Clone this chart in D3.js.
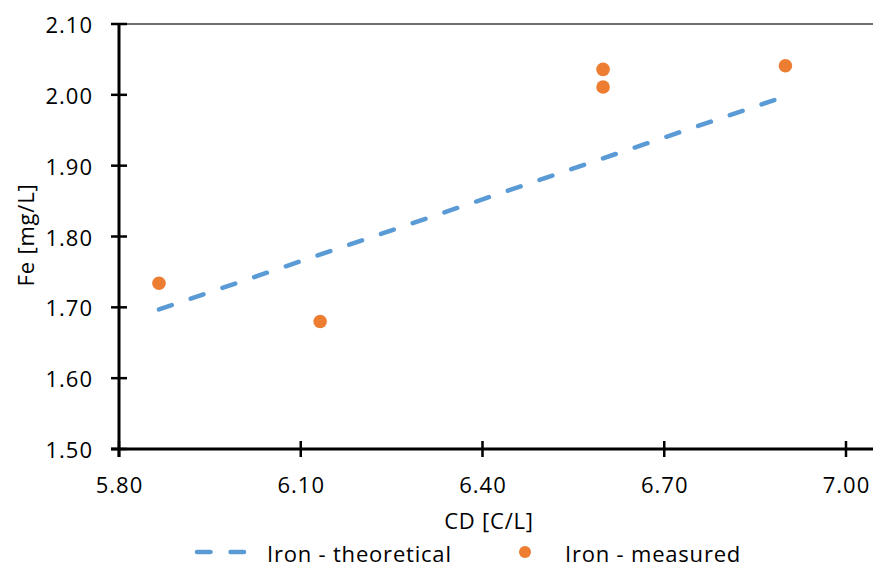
<!DOCTYPE html>
<html>
<head>
<meta charset="utf-8">
<script src="https://cdn.jsdelivr.net/npm/d3@7"></script>
<style>
    body { margin: 0; background: #fff; }
    text { font-family: 'Open Sans', sans-serif; fill: #000; }
</style>
</head>
<body>
<svg id="chart" width="873" height="567"></svg>
<script>
// measured points
var measuredCD = [5.866, 6.132, 6.599, 6.599, 6.900];
var measuredFe = [1.734, 1.680, 2.036, 2.011, 2.041];

// theoretical line (end points)
var theoryCD = [5.866, 6.900];
var theoryFe = [1.697, 1.998];

var xTicks = [5.80, 6.10, 6.40, 6.70, 7.00];
var yTicks = [1.50, 1.60, 1.70, 1.80, 1.90, 2.00, 2.10];

var svg = d3.select('#chart');

var xScale = d3.scaleLinear()
    .domain([5.80, 7.00])
    .range([119, 846]);

var yScale = d3.scaleLinear()
    .domain([1.50, 2.10])
    .range([449, 24]);

// top border line at 2.10
svg.append('line')
    .attr('x1', xScale(5.80))
    .attr('x2', 873)
    .attr('y1', yScale(2.10))
    .attr('y2', yScale(2.10))
    .attr('stroke', '#404040')
    .attr('stroke-width', 1.5);

// x axis
var xAxis = svg.append('g');
xAxis.append('line')
    .attr('x1', xScale(5.80) - 8)
    .attr('x2', 873)
    .attr('y1', yScale(1.50))
    .attr('y2', yScale(1.50))
    .attr('stroke', '#000')
    .attr('stroke-width', 3);
xAxis.selectAll('.xtick')
    .data(xTicks)
    .enter()
    .append('line')
    .attr('class', 'xtick')
    .attr('x1', function(d) { return xScale(d); })
    .attr('x2', function(d) { return xScale(d); })
    .attr('y1', yScale(1.50) - 8)
    .attr('y2', yScale(1.50) + 8)
    .attr('stroke', '#000')
    .attr('stroke-width', 2.5);
xAxis.selectAll('.xlabel')
    .data(xTicks)
    .enter()
    .append('text')
    .attr('class', 'xlabel')
    .attr('x', function(d) { return xScale(d) + 0.5; })
    .attr('y', 484)
    .attr('text-anchor', 'middle')
    .attr('dominant-baseline', 'central')
    .style('font-size', '22px')
    .style('letter-spacing', '1px')
    .text(function(d) { return d.toFixed(2); });

// y axis
var yAxis = svg.append('g');
yAxis.append('line')
    .attr('x1', xScale(5.80))
    .attr('x2', xScale(5.80))
    .attr('y1', yScale(2.10))
    .attr('y2', yScale(1.50) + 8)
    .attr('stroke', '#000')
    .attr('stroke-width', 3);
yAxis.selectAll('.ytick')
    .data(yTicks)
    .enter()
    .append('line')
    .attr('class', 'ytick')
    .attr('x1', xScale(5.80) - 8)
    .attr('x2', xScale(5.80) + 8)
    .attr('y1', function(d) { return yScale(d); })
    .attr('y2', function(d) { return yScale(d); })
    .attr('stroke', '#000')
    .attr('stroke-width', 2.5);
yAxis.selectAll('.ylabel')
    .data(yTicks)
    .enter()
    .append('text')
    .attr('class', 'ylabel')
    .attr('x', 93)
    .attr('y', function(d) { return yScale(d); })
    .attr('text-anchor', 'end')
    .attr('dominant-baseline', 'central')
    .style('font-size', '22px')
    .style('letter-spacing', '1px')
    .text(function(d) { return d.toFixed(2); });

// axis titles
svg.append('text')
    .attr('x', 489)
    .attr('y', 520)
    .attr('text-anchor', 'middle')
    .attr('dominant-baseline', 'central')
    .style('font-size', '22px')
    .style('letter-spacing', '0.8px')
    .text('CD [C/L]');

svg.append('text')
    .attr('transform', 'translate(25,235) rotate(-90)')
    .attr('text-anchor', 'middle')
    .attr('dominant-baseline', 'central')
    .style('font-size', '22px')
    .style('letter-spacing', '0.8px')
    .text('Fe [mg/L]');

// theoretical line
var lineData = theoryCD.map(function(d, i) { return [d, theoryFe[i]]; });
svg.append('path')
    .datum(lineData)
    .attr('d', d3.line()
        .x(function(d) { return xScale(d[0]); })
        .y(function(d) { return yScale(d[1]); }))
    .attr('fill', 'none')
    .attr('stroke', '#5B9BD5')
    .attr('stroke-width', 4.5)
    .attr('stroke-linecap', 'round')
    .attr('stroke-dasharray', '13.5 20');

// measured points
svg.selectAll('.pt')
    .data(measuredCD)
    .enter()
    .append('circle')
    .attr('class', 'pt')
    .attr('cx', function(d) { return xScale(d); })
    .attr('cy', function(d, i) { return yScale(measuredFe[i]); })
    .attr('r', 6.8)
    .attr('fill', '#ED7D31');

// legend
var legend = svg.append('g');
legend.append('line')
    .attr('x1', 197)
    .attr('x2', 247)
    .attr('y1', 552)
    .attr('y2', 552)
    .attr('stroke', '#5B9BD5')
    .attr('stroke-width', 4.5)
    .attr('stroke-linecap', 'round')
    .attr('stroke-dasharray', '13.5 20');
legend.append('text')
    .attr('x', 267)
    .attr('y', 553)
    .attr('dominant-baseline', 'central')
    .style('font-size', '22px')
    .style('letter-spacing', '0.8px')
    .text('Iron - theoretical');
legend.append('circle')
    .attr('cx', 525)
    .attr('cy', 552)
    .attr('r', 6)
    .attr('fill', '#ED7D31');
legend.append('text')
    .attr('x', 565)
    .attr('y', 553)
    .attr('dominant-baseline', 'central')
    .style('font-size', '22px')
    .style('letter-spacing', '0.8px')
    .text('Iron - measured');
</script>
</body>
</html>
